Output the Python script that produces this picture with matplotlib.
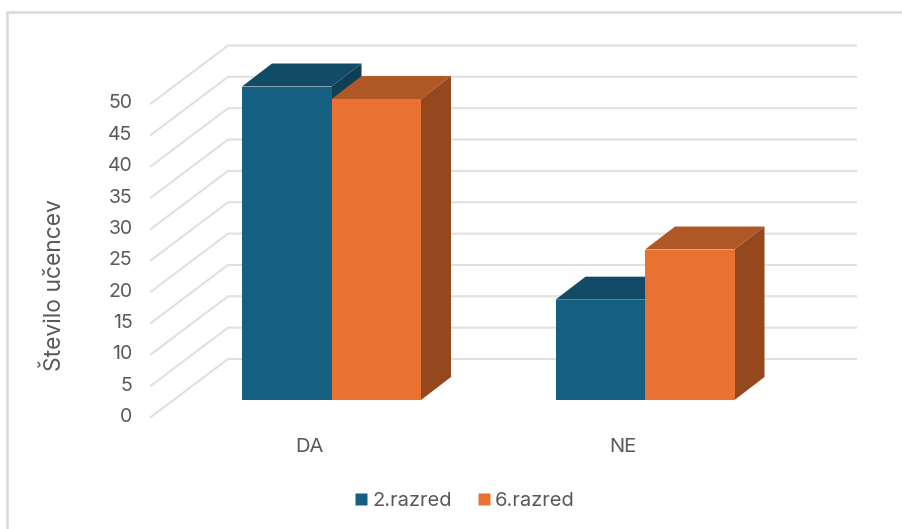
import numpy as np
from matplotlib import pyplot as plt
from matplotlib.patches import Polygon
from matplotlib.lines import Line2D

categories = ['DA', 'NE']
series_names = ['2.razred', '6.razred']
razred2 = [50, 16]
razred6 = [48, 24]
y_ticks = [0, 5, 10, 15, 20, 25, 30, 35, 40, 45, 50]

front_colors = ['#156082', '#E97132']
top_colors = ['#124B66', '#B05726']
side_colors = ['#0E3F56', '#95481E']
grid_color = '#E0E0E0'
text_color = '#595959'

W, H = 903, 529
plt.rcParams['font.family'] = ['Inter', 'DejaVu Sans']

fig = plt.figure(figsize=(W / 100, H / 100), dpi=100)
ax = fig.add_axes([0, 0, 1, 1])

# one category step and one y unit in pixels, bars stand on y=400
step = 313.5
unit = 6.27
ax.set_xlim(-331.5 / step, (W - 331.5) / step)
ax.set_ylim((400 - H) / unit, 400 / unit)
ax.axis('off')

px = 1 / step
py = 1 / unit

# oblique depth of a bar
depth_x = 30 * px
depth_y = 23 * py
bar_w = 89.5 * px

# walls: left wall runs up and back, then the line goes along the back wall
for t in y_ticks:
    yf = t - 17 * py
    yb = t + 41 * py
    ax.plot([-180.5 * px, -103.5 * px, 524.5 * px], [yf, yb, yb],
            color=grid_color, lw=1.5, zorder=1, solid_joinstyle='miter')
    ax.text(-199 * px, yf, str(t), ha='right', va='center', fontsize=14,
            color=text_color)

x = np.arange(len(categories))
for i, vals in enumerate([razred2, razred6]):
    left = x - bar_w + i * bar_w
    for xl, v in zip(left, vals):
        xr = xl + bar_w
        z = 2 + i
        ax.add_patch(Polygon([(xl, v), (xr, v), (xr + depth_x, v + depth_y),
                              (xl + depth_x, v + depth_y)],
                             closed=True, fc=top_colors[i], ec='none', zorder=z))
        ax.add_patch(Polygon([(xr, 0), (xr + depth_x, depth_y),
                              (xr + depth_x, v + depth_y), (xr, v)],
                             closed=True, fc=side_colors[i], ec='none', zorder=z))
    ax.bar(left, vals, width=bar_w, align='edge', color=front_colors[i], zorder=2 + i)

for xc, name in zip(x, categories):
    ax.text(xc - 22 * px, -47 * py, name, ha='center', va='center',
            fontsize=14.5, color=text_color)

ax.text(-277 * px, (400 - 285) * py, 'Število učencev', rotation=90, ha='center',
        va='center', fontsize=16.5, color=text_color)

# chart frame, only left and top edges show
ax.plot([-324.5 * px, -324.5 * px, (W - 331.5) * px],
        [(400 - H) * py, (400 - 12) * py, (400 - 12) * py],
        color='#D9D9D9', lw=1.8, zorder=1, solid_joinstyle='miter')

handles = [Line2D([], [], ls='none', marker='s', ms=8.5, mfc=c, mec='none')
           for c in front_colors]
ax.legend(handles, series_names, loc='center', bbox_to_anchor=(458 / W, 1 - 501 / H),
          ncol=2, frameon=False, fontsize=14.5, labelcolor=text_color,
          handletextpad=-0.45, columnspacing=0.6)

fig.savefig('out.png', dpi=100)
